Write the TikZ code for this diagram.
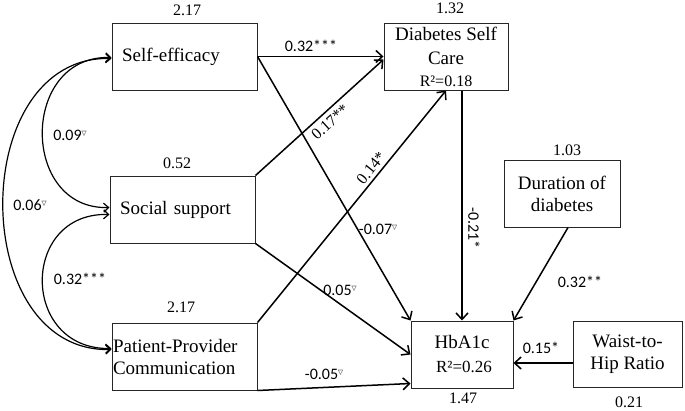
\documentclass[tikz,border=0pt]{standalone}
\usepackage{fontspec}
\setmainfont{Liberation Serif}
\newfontfamily\lblfont{Carlito}
\newfontfamily\symfont{DejaVu Sans}
\usetikzlibrary{arrows.meta,calc}
\newcommand{\ns}{\raisebox{5pt}{\symfont\fontsize{6.5}{6.5}\selectfont ▽}}
\begin{document}
\begin{tikzpicture}[x=1pt,y=-1pt,
  box/.style={draw=black!85,line width=1pt,rectangle,inner sep=0pt,
    font=\fontsize{19}{22}\selectfont,align=center},
  num/.style={font=\fontsize{16}{18}\selectfont,inner sep=0pt},
  lbl/.style={font=\lblfont\fontsize{16}{18}\selectfont,inner sep=0pt},
  slbl/.style={font=\fontsize{16}{18}\selectfont,inner sep=0pt},
  arr/.style={line width=1.5pt,-{Straight Barb[length=6.5pt,width=12pt]}},
  cov/.style={line width=1.2pt,{Straight Barb[length=5pt,width=9pt]}-{Straight Barb[length=5pt,width=9pt]}}]
\useasboundingbox[fill=white] (0,0) rectangle (685,410);
% boxes
\node[box,minimum width=145pt,minimum height=67pt,text width=125pt,inner xsep=10pt,align=left] (se) at (184.5,56.5) {Self-efficacy};
\node[box,minimum width=145pt,minimum height=67pt,text width=125pt,inner xsep=10pt,align=left] (ss) at (182.5,209.5) {Social support};
\node[box,minimum width=145pt,minimum height=67pt,text width=143pt,inner xsep=1pt,align=left] (pp) at (184.5,356.5) {Patient-Provider\\Communication};
\node[box,minimum width=124pt,minimum height=67pt,font=\fontsize{19}{24}\selectfont] (dsc) at (446,56.5) {Diabetes Self\\Care\\[-2pt]{\fontsize{16}{18}\selectfont R²=0.18}};
\node[box,minimum width=116pt,minimum height=67pt] (dur) at (562,193.5) {Duration of\\diabetes};
\node[box,minimum width=102pt,minimum height=67pt,font=\fontsize{19}{24}\selectfont] (hb) at (462,354.5) {HbA1c\hspace{8pt}\\{\fontsize{17}{18}\selectfont\hspace{4pt}R²=0.26}};
\node[box,minimum width=109pt,minimum height=66pt] (ws) at (627.5,354) {Waist-to-\\Hip Ratio};
% numbers
\node[num] (n1) at (187,10) {2.17};
\node[num] (n2) at (177,163) {0.52};
\node[num] (n3) at (181,307) {2.17};
\node[num] (n4) at (450,8) {1.32};
\node[num] (n5) at (567,150) {1.03};
\node[num] (n6) at (463,398) {1.47};
\node[num] (n7) at (629,402) {0.21};
% paths
\draw[arr] (se.east) -- (dsc.west);
\draw[arr] (se.east) -- (hb.north west);
\draw[arr] (ss.north east) -- ([yshift=-3pt]dsc.west);
\draw[arr] (pp.north east) -- (dsc.south);
\draw[arr] (ss.south east) -- (hb.west);
\draw[arr] (pp.south east) -- ([yshift=5pt]hb.south west);
\draw[arr] (hb.north |- dsc.south) -- (hb.north);
\draw[arr] ([xshift=6pt]dur.south) -- (hb.north east);
\draw[arr] ([yshift=-9pt]ws.west) -- ([yshift=-9pt]ws.west -| hb.east);
% covariances
\draw[cov] ([yshift=-1pt]se.west) .. controls (20,55) and (20,210) .. ([yshift=2pt]ss.west);
\draw[cov] ([yshift=-5pt]ss.west) .. controls (20,212) and (20,350) .. ([yshift=8pt]pp.west);
\draw[cov] ([yshift=-2pt]se.west) .. controls (-33,55) and (-33,353) .. ([yshift=7pt]pp.west);
% labels
\node[lbl] (l1) at (311,46) {0.32***};
\node[lbl] (l2) at (70,135) {0.09\ns};
\node[lbl] (l3) at (30,205) {0.06\ns};
\node[lbl] (l4) at (80,279) {0.32***};
\node[lbl] (l5) at (378,229) {-0.07\ns};
\node[lbl] (l6) at (340,290) {0.05\ns};
\node[lbl] (l7) at (324,374) {-0.05\ns};
\node[lbl] (l8) at (580,282) {0.32**};
\node[lbl] (l9) at (541,348) {0.15*};
\node[lbl,rotate=-90] (l10) at (474,228) {-0.21*};
\node[slbl,rotate=42] (l11) at (330,122) {0.17**};
\node[slbl,rotate=51] (l12) at (371,168) {0.14*};
\end{tikzpicture}
\end{document}
